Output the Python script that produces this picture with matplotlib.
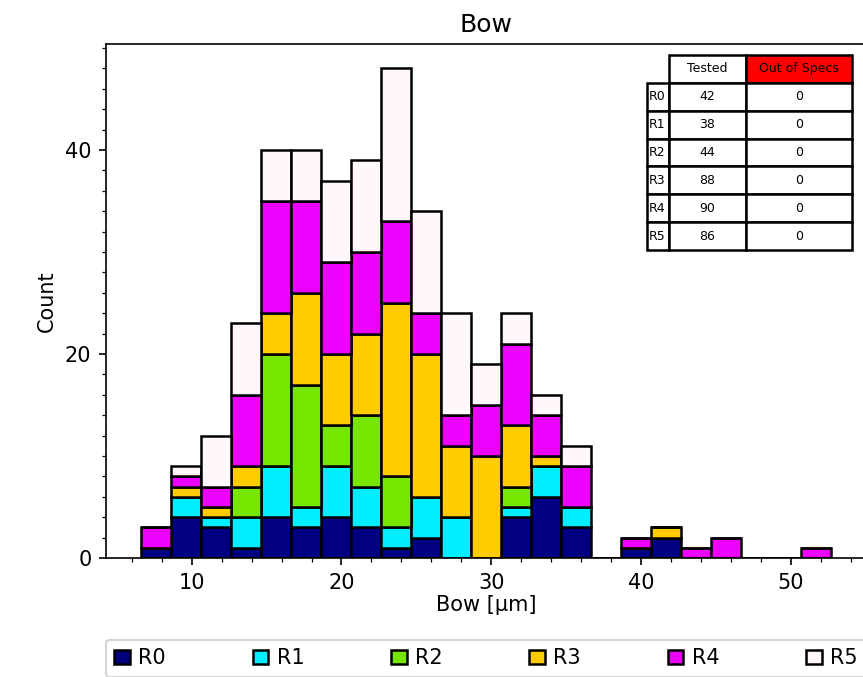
import numpy as np
import matplotlib
matplotlib.use("Agg")
import matplotlib.pyplot as plt
from matplotlib.ticker import MultipleLocator
from matplotlib.table import Table

# Histogram bin range (Bow in µm), 23 equal-width bins
bin_lo, bin_hi = 6.58, 52.72
n_bins = 23

series = ["R0", "R1", "R2", "R3", "R4", "R5"]
colors = ["#000080", "#00EEFF", "#76E600", "#FFCC00", "#EE00FF", "#FFF7FC"]

# Counts per bin for each series
r0 = [1, 4, 3, 1, 4, 3, 4, 3, 1, 2, 0, 0, 4, 6, 3, 0, 1, 2, 0, 0, 0, 0, 0]
r1 = [0, 2, 1, 3, 5, 2, 5, 4, 2, 4, 4, 0, 1, 3, 2, 0, 0, 0, 0, 0, 0, 0, 0]
r2 = [0, 0, 0, 3, 11, 12, 4, 7, 5, 0, 0, 0, 2, 0, 0, 0, 0, 0, 0, 0, 0, 0, 0]
r3 = [0, 1, 1, 2, 4, 9, 7, 8, 17, 14, 7, 10, 6, 1, 0, 0, 0, 1, 0, 0, 0, 0, 0]
r4 = [2, 1, 2, 7, 11, 9, 9, 8, 8, 4, 3, 5, 8, 4, 4, 0, 1, 0, 1, 2, 0, 0, 1]
r5 = [0, 1, 5, 7, 5, 5, 8, 9, 15, 10, 10, 4, 3, 2, 2, 0, 0, 0, 0, 0, 0, 0, 0]
counts = [r0, r1, r2, r3, r4, r5]

# Summary table
col_labels = ["Tested", "Out of Specs"]
tested = [42, 38, 44, 88, 90, 86]
out_of_specs = [0, 0, 0, 0, 0, 0]

W, H, DPI = 863, 677, 150
fig = plt.figure(figsize=(W / DPI, H / DPI), dpi=DPI)
ax = fig.add_axes([106 / W, 1 - 558 / H, 760 / W, 514 / H])

edges = np.linspace(bin_lo, bin_hi, n_bins + 1)
widths = np.diff(edges)
bottom = np.zeros(n_bins)
for name, col, c in zip(series, colors, counts):
    c = np.asarray(c, dtype=float)
    ax.bar(edges[:-1], c, width=widths, bottom=bottom, align="edge",
           color=col, edgecolor="black", linewidth=1.2, label=name)
    bottom += c

ax.set_title("Bow", fontsize=12)
ax.set_xlabel("Bow [µm]", labelpad=1)
ax.set_ylabel("Count")
ax.xaxis.set_major_locator(MultipleLocator(10))
ax.xaxis.set_minor_locator(MultipleLocator(2))
ax.yaxis.set_major_locator(MultipleLocator(20))
ax.yaxis.set_minor_locator(MultipleLocator(2))
ax.spines["right"].set_visible(False)

# Table of tested / out-of-spec counts, built cell by cell
tbl = Table(ax, bbox=[(647.3 - 106) / 760, (558 - 250) / 514, 205 / 760, 195 / 514])
col_w = [22.0, 76.4, 106.6]
row_h = 1.0
hdr_colors = ["white", "red"]
corner = tbl.add_cell(0, 0, width=col_w[0], height=row_h, text="")
corner.visible_edges = ""
for j, lab in enumerate(col_labels):
    tbl.add_cell(0, j + 1, width=col_w[j + 1], height=row_h, text=lab,
                 loc="center", facecolor=hdr_colors[j])
for i, (name, t, o) in enumerate(zip(series, tested, out_of_specs)):
    tbl.add_cell(i + 1, 0, width=col_w[0], height=row_h, text=name, loc="left")
    tbl.add_cell(i + 1, 1, width=col_w[1], height=row_h, text=str(t), loc="center")
    tbl.add_cell(i + 1, 2, width=col_w[2], height=row_h, text=str(o), loc="center")
tbl.auto_set_font_size(False)
tbl.set_fontsize(6)
for cell in tbl.get_celld().values():
    cell.set_linewidth(1.2)
    cell.PAD = 0.05
ax.add_table(tbl)

leg = ax.legend(loc="upper left", bbox_to_anchor=(0, (558 - 640) / 514, 1, 0),
                mode="expand", ncol=6, borderaxespad=0, handlelength=0.75,
                handletextpad=0.4, fontsize=10)

fig.savefig("out.png", dpi=DPI)
